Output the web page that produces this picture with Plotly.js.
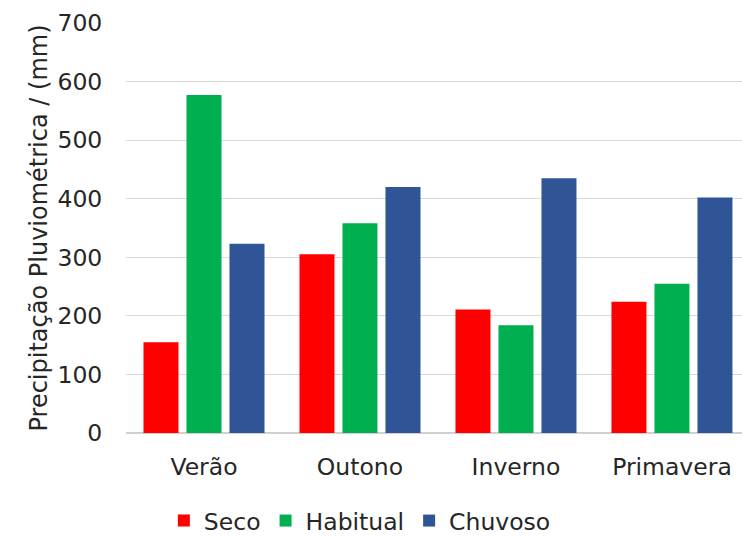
<!DOCTYPE html>
<html>
<head>
<meta charset="utf-8">
<script src="https://cdn.plot.ly/plotly-3.0.1.min.js"></script>
<style>html,body{margin:0;padding:0;background:#fff;}#chart{width:742px;height:538px;}</style>
</head>
<body>
<div id="chart"></div>
<script>
const categories = ["Verão", "Outono", "Inverno", "Primavera"];
const seco = [155, 305, 211, 224];
const habitual = [577, 358, 184, 255];
const chuvoso = [323, 420, 435, 402];
const seriesNames = ["Seco", "Habitual", "Chuvoso"];
const yTicks = [0, 100, 200, 300, 400, 500, 600, 700];

const colors = ["#FF0000", "#00B050", "#2F5597"];
const font = "DejaVu Sans, Verdana, sans-serif";
const data = [seco, habitual, chuvoso].map((vals, i) => ({
  type: "bar",
  name: seriesNames[i],
  x: categories,
  y: vals,
  marker: {color: colors[i]},
  hoverinfo: "x+y+name"
}));

const layout = {
  width: 742, height: 538,
  margin: {l: 126, r: 0, t: 23, b: 105},
  paper_bgcolor: "#fff", plot_bgcolor: "#fff",
  barmode: "group",
  bargap: 0.173,
  bargroupgap: 0.186,
  font: {family: font, size: 24, color: "#404040"},
  xaxis: {
    range: [-0.5, 3.449],
    automargin: false,
    showgrid: false,
    showline: false,
    ticks: "outside", ticklen: 13, tickcolor: "rgba(0,0,0,0)",
    tickfont: {family: font, size: 23.5, color: "#262626"},
    fixedrange: true
  },
  yaxis: {
    range: [0, 700],
    automargin: false,
    tickvals: yTicks,
    ticktext: yTicks.map(String),
    gridcolor: "#D9D9D9", gridwidth: 1,
    zeroline: true, zerolinecolor: "#D0D0D0", zerolinewidth: 1.5,
    showline: false,
    ticks: "outside", ticklen: 18, tickcolor: "rgba(0,0,0,0)",
    tickfont: {family: font, size: 23.5, color: "#262626"},
    title: {text: "Precipitação Pluviométrica / (mm)", font: {family: font, size: 24, color: "#262626"}, standoff: 3},
    fixedrange: true
  },
  showlegend: true,
  legend: {
    orientation: "h",
    xref: "container", yref: "container",
    x: 0.485, xanchor: "center",
    y: 0.032, yanchor: "middle",
    font: {family: font, size: 23.5, color: "#262626"},
    itemwidth: 30,
    traceorder: "normal"
  }
};

Plotly.newPlot("chart", data, layout, {displayModeBar: false, staticPlot: true});
</script>
</body>
</html>
